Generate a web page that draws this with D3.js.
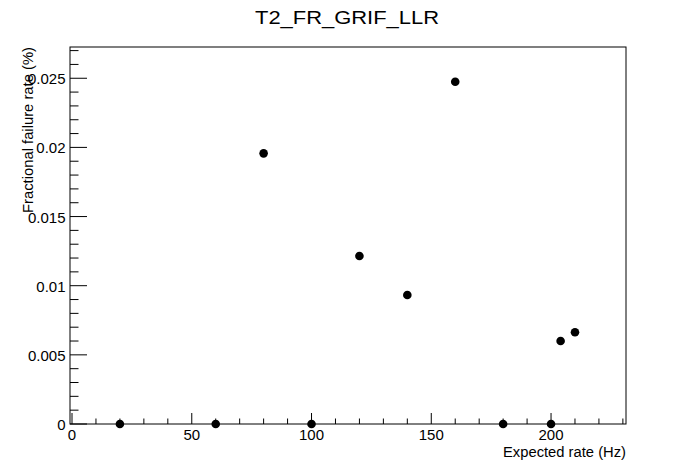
<!DOCTYPE html>
<html><head><meta charset="utf-8">
<script src="https://cdn.jsdelivr.net/npm/d3@7"></script>
<style>body{margin:0;background:#fff}svg{display:block}text{font-family:"Liberation Sans",Arial,sans-serif;fill:#000}</style>
</head><body>
<script>
const title = "T2_FR_GRIF_LLR";
const xTitle = "Expected rate (Hz)";
const yTitle = "Fractional failure rate (%)";
const xValues = [20, 60, 80, 100, 120, 140, 160, 180, 200, 204, 210];
const yValues = [0, 0, 0.01957, 0, 0.01215, 0.00933, 0.02475, 0, 0, 0.0060, 0.00663];
const xMajorTicks = [0, 50, 100, 150, 200];
const yMajorTicks = [0, 0.005, 0.01, 0.015, 0.02, 0.025];
const yTickLabels = ["0", "0.005", "0.01", "0.015", "0.02", "0.025"];

const W = 696, H = 472;
const fl = 70, fr = 626, ft = 47, fb = 424;
const x = d3.scaleLinear().domain([-0.84, 231.3]).range([fl, fr]);
const y = d3.scaleLinear().domain([0, 0.02726]).range([fb, ft]);

const svg = d3.select("body").append("svg").attr("width", W).attr("height", H);
svg.append("rect").attr("width", W).attr("height", H).attr("fill", "#fff");

// frame
svg.append("rect").attr("x", fl).attr("y", ft).attr("width", fr - fl).attr("height", fb - ft)
  .attr("fill", "none").attr("stroke", "#000").attr("stroke-width", 1);

// x axis
const xMinor = d3.range(0, 231, 10);
const xMajLen = 11, xMinLen = 5.5;
svg.append("g").selectAll("line").data(xMinor).join("line")
  .attr("x1", d => x(d)).attr("x2", d => x(d))
  .attr("y1", fb).attr("y2", d => fb - (d % 50 === 0 ? xMajLen : xMinLen))
  .attr("stroke", "#000");
svg.append("g").selectAll("text").data(xMajorTicks).join("text")
  .attr("x", d => x(d)).attr("y", fb + 16).attr("text-anchor", "middle")
  .attr("font-size", 15).text(d => d);

// y axis
const yMinor = d3.range(0, 28).map(i => i * 0.001);
const yMajLen = 17, yMinLen = 8.5;
svg.append("g").selectAll("line").data(yMinor).join("line")
  .attr("y1", d => y(d)).attr("y2", d => y(d))
  .attr("x1", fl).attr("x2", (d, i) => fl + (i % 5 === 0 ? yMajLen : yMinLen))
  .attr("stroke", "#000");
svg.append("g").selectAll("text").data(yMajorTicks).join("text")
  .attr("x", fl - 4.5).attr("y", d => y(d) + 6).attr("text-anchor", "end")
  .attr("font-size", 15).text((d, i) => yTickLabels[i]);

// titles
svg.append("text").attr("x", 347).attr("y", 23.5).attr("text-anchor", "middle")
  .attr("font-size", 18.5).attr("textLength", 184).attr("lengthAdjust", "spacingAndGlyphs").text(title);
svg.append("text").attr("x", fr - 123).attr("y", 457).attr("text-anchor", "start")
  .attr("font-size", 14).attr("textLength", 123).attr("lengthAdjust", "spacingAndGlyphs").text(xTitle);
svg.append("text").attr("transform", `translate(33,${ft + 166}) rotate(-90)`)
  .attr("text-anchor", "start").attr("font-size", 14)
  .attr("textLength", 166).attr("lengthAdjust", "spacingAndGlyphs").text(yTitle);

// points
svg.append("g").selectAll("circle").data(xValues).join("circle")
  .attr("cx", d => x(d)).attr("cy", (d, i) => y(yValues[i])).attr("r", 4.3)
  .attr("fill", "#000");
</script>
</body></html>
